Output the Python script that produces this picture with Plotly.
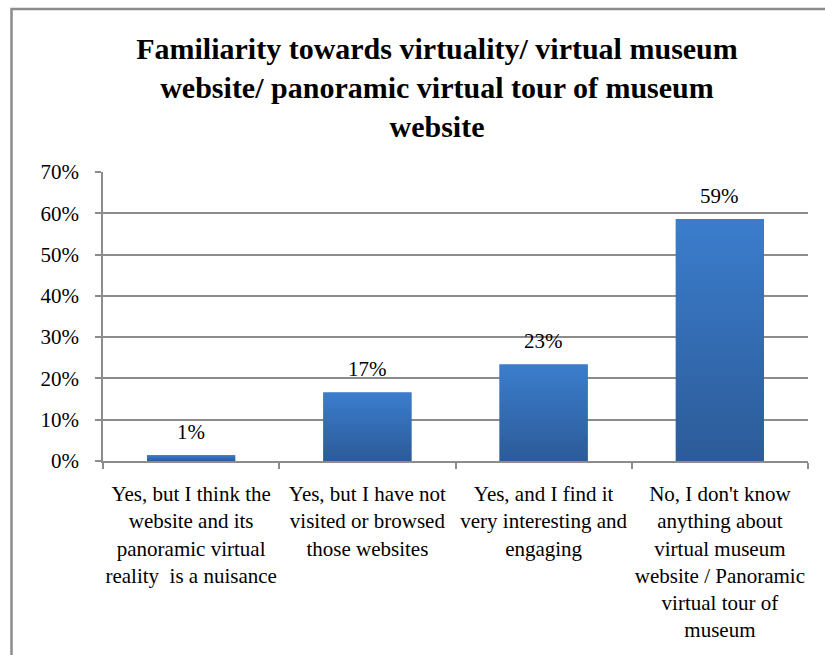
import plotly.graph_objects as go

# Survey responses
categories = [
    "Yes, but I think the<br>website and its<br>panoramic virtual<br>reality  is a nuisance",
    "Yes, but I have not<br>visited or browsed<br>those websites",
    "Yes, and I find it<br>very interesting and<br>engaging",
    "No, I don't know<br>anything about<br>virtual museum<br>website / Panoramic<br>virtual tour of<br>museum",
]
shares = [0.014, 0.166, 0.234, 0.586]
y_ticks = [0.0, 0.1, 0.2, 0.3, 0.4, 0.5, 0.6, 0.7]
y_tick_labels = ["0%", "10%", "20%", "30%", "40%", "50%", "60%", "70%"]

FONT = "Liberation Serif, Times New Roman, serif"
GRID = "#8c8c8c"
BAR_W = 0.5
BAR_TOP = "#3b7dcd"
BAR_BOTTOM = "#2c5b98"

W, H = 825, 655
L, R, T, B = 103, 17, 172, 194
pw, ph = W - L - R, H - T - B

fig = go.Figure()

fig.add_trace(go.Bar(
    x=categories, y=shares, width=BAR_W,
    marker=dict(color="#3469b2", line=dict(width=0)),
    hoverinfo="skip", showlegend=False,
))

# vertical gradient fill drawn over each bar on a hidden numeric axis
for i, v in enumerate(shares):
    half = BAR_W / 2
    fig.add_trace(go.Scatter(
        x=[i - half, i - half, i + half, i + half, i - half],
        y=[0, v, v, 0, 0],
        xaxis="x2", mode="lines", line=dict(width=0),
        fill="toself",
        fillgradient=dict(type="vertical", start=0, stop=v,
                          colorscale=[[0, BAR_BOTTOM], [1, BAR_TOP]]),
        hoverinfo="skip", showlegend=False,
    ))

# value labels above the bars
for c, v in zip(categories, shares):
    fig.add_annotation(
        x=c, y=v, text=f"{v:.0%}", showarrow=False,
        yanchor="bottom", yshift=9,
        font=dict(family=FONT, size=21, color="black"),
    )

# outer chart frame
fig.add_shape(
    type="rect", xref="paper", yref="paper",
    x0=(11.5 - L) / pw, x1=(W + 60 - L) / pw,
    y0=-(B + 60) / ph, y1=(T - 9) / ph + 1,
    line=dict(color="#8c8c8c", width=2.5), fillcolor="rgba(0,0,0,0)",
    layer="below",
)

fig.update_layout(
    width=W, height=H,
    margin=dict(l=L, r=R, t=T, b=B, autoexpand=False),
    paper_bgcolor="white", plot_bgcolor="white",
    font=dict(family=FONT, size=21, color="black"),
    title=dict(
        text="<b>Familiarity towards virtuality/ virtual museum<br>"
             "website/ panoramic virtual tour of museum<br>website</b>",
        font=dict(family=FONT, size=30, color="black"),
        x=437 / W, xanchor="center", y=1 - 59 / H, yanchor="top",
        automargin=False,
    ),
    bargap=0.5,
    xaxis=dict(
        type="category", showline=True, linecolor=GRID, linewidth=1.5,
        ticks="outside", tickson="boundaries", ticklen=6, tickcolor=GRID,
        tickwidth=1.5, showgrid=False, tickfont=dict(family=FONT, size=21),
        ticklabelstandoff=13, tickangle=0, automargin=False,
    ),
    xaxis2=dict(overlaying="x", range=[-0.5, 3.5], visible=False),
    yaxis=dict(
        range=[0, 0.7], tickvals=y_ticks, ticktext=y_tick_labels,
        showline=True, linecolor=GRID, linewidth=1.5,
        ticks="outside", ticklen=6, tickcolor=GRID, tickwidth=1.5,
        showgrid=True, gridcolor=GRID, gridwidth=1.5, zeroline=False,
        tickfont=dict(family=FONT, size=21), ticklabelstandoff=12,
        automargin=False,
    ),
)

fig.write_html("out.html")
